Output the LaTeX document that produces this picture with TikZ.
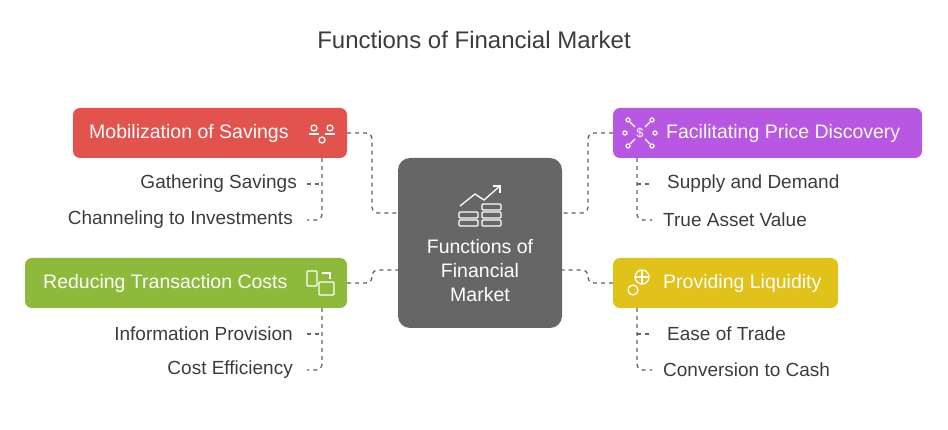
\documentclass[tikz,border=0pt]{standalone}
\usepackage{fontspec}
\setmainfont{Liberation Sans}
\usetikzlibrary{positioning}
\definecolor{redbox}{RGB}{226,83,78}
\definecolor{purplebox}{RGB}{183,87,226}
\definecolor{greenbox}{RGB}{141,186,58}
\definecolor{yellowbox}{RGB}{224,194,26}
\definecolor{centerbox}{RGB}{102,102,102}
\definecolor{txt}{RGB}{60,60,60}
\tikzset{
  topic/.style={text=white,font=\fontsize{19.5}{22}\selectfont,anchor=west,inner sep=0pt},
  sub/.style={text=txt,font=\fontsize{19}{22}\selectfont,inner sep=0pt},
  link/.style={line width=1.3pt,draw=txt!80,dash pattern=on 4pt off 4pt,rounded corners=6pt},
  ico/.style={white,line width=1.3pt}
}
\begin{document}
\begin{tikzpicture}[x=1pt,y=-1pt]
\useasboundingbox (0,0) rectangle (948,430);

% Title
\node[text=txt,font=\fontsize{24}{28}\selectfont] (title) at (474,40) {Functions of Financial Market};

% Center
\fill[centerbox,rounded corners=12pt] (398,158) rectangle (562,328);
\coordinate (cl) at (398,213); \coordinate (cl2) at (398,270);
\coordinate (cr) at (562,213); \coordinate (cr2) at (562,270);
\node[text=white,align=center,font=\fontsize{19.5}{24}\selectfont] (center) at (480,271) {Functions of\\Financial\\Market};
\draw[ico] (460,206) -- (475,194) -- (484,200) -- (500,186);
\draw[ico] (493,186) -- (500,186) -- (500,193);
\draw[ico,rounded corners=1pt] (459,212) rectangle (478,218) (459,220) rectangle (478,226);
\draw[ico,rounded corners=1pt] (482,204) rectangle (501,210) (482,212) rectangle (501,218) (482,220) rectangle (501,226);

% Red topic
\fill[redbox,rounded corners=7pt] (73,108) rectangle (347,158);
\node[topic] (savings) at (89,133) {Mobilization of Savings};
\draw[ico] (314,128) circle (3pt) (330,128) circle (3pt) (322,140) circle (3pt);
\draw[ico] (309,134) -- (319,134) (325,134) -- (335,134);
\node[sub,anchor=east] (gather) at (297,184) {Gathering Savings};
\node[sub,anchor=east] (channel) at (293,220) {Channeling to Investments};
\draw[link] (322,158) -- (322,220) -- (307,220);
\draw[link] (307,184) -- (322,184);
\draw[link] (347,133) -- (372,133) -- (372,213) -- (cl);

% Purple topic
\fill[purplebox,rounded corners=7pt] (613,108) rectangle (922,158);
\node[topic] (price) at (666,133) {Facilitating Price Discovery};
\draw[ico] (628,120) circle (2pt) (628,146) circle (2pt) (652,120) circle (2pt) (652,146) circle (2pt) (625,133) circle (2pt) (655,133) circle (2pt);
\draw[ico] (630,122) -- (635,127) (650,122) -- (645,127) (630,144) -- (635,139) (650,144) -- (645,139);
\node[white,font=\fontsize{13}{14}\selectfont] (dollar) at (640,133) {\$};
\node[sub,anchor=west] (supply) at (667,184) {Supply and Demand};
\node[sub,anchor=west] (asset) at (663,220) {True Asset Value};
\draw[link] (637,158) -- (637,220) -- (652,220);
\draw[link] (637,184) -- (652,184);
\draw[link] (613,133) -- (588,133) -- (588,213) -- (cr);

% Green topic
\fill[greenbox,rounded corners=7pt] (25,258) rectangle (347,308);
\node[topic] (costs) at (43,283) {Reducing Transaction Costs};
\draw[ico,rounded corners=1pt] (307,271) rectangle (317,286) (319,282) rectangle (334,295);
\draw[ico] (322,273) -- (330,273) -- (330,279);
\node[sub,anchor=east] (info) at (293,334) {Information Provision};
\node[sub,anchor=east] (effic) at (293,370) {Cost Efficiency};
\draw[link] (322,308) -- (322,370) -- (307,370);
\draw[link] (307,334) -- (322,334);
\draw[link] (347,283) -- (372,283) -- (372,270) -- (cl2);

% Yellow topic
\fill[yellowbox,rounded corners=7pt] (613,258) rectangle (838,308);
\node[topic] (liquid) at (663,283) {Providing Liquidity};
\draw[ico] (642,277) circle (7pt) (633,290) circle (5pt);
\draw[ico] (635,277) -- (649,277) (642,270) -- (642,284);
\node[sub,anchor=west] (ease) at (667,334) {Ease of Trade};
\node[sub,anchor=west] (cash) at (663,370) {Conversion to Cash};
\draw[link] (637,308) -- (637,370) -- (652,370);
\draw[link] (637,334) -- (652,334);
\draw[link] (613,283) -- (588,283) -- (588,270) -- (cr2);
\end{tikzpicture}
\end{document}
